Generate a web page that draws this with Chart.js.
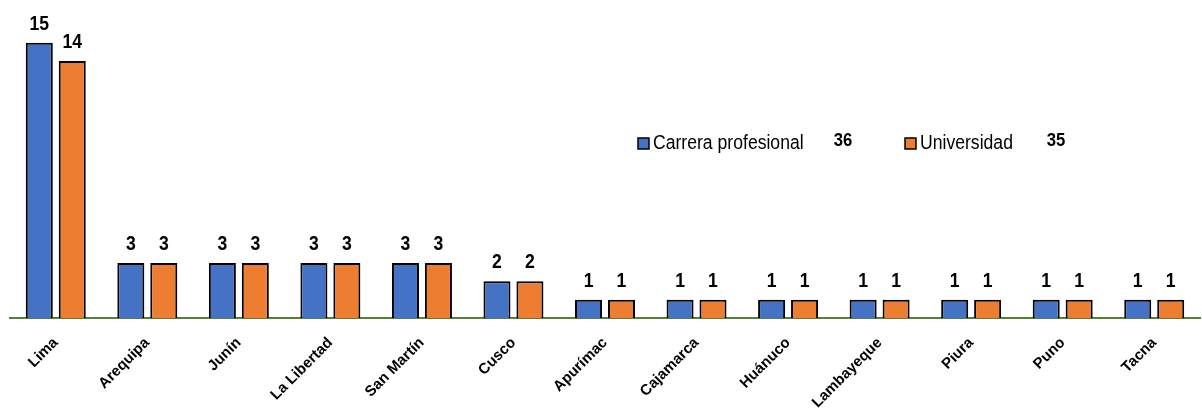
<!DOCTYPE html>
<html>
<head>
<meta charset="utf-8">
<script src="https://cdn.jsdelivr.net/npm/chart.js@4"></script>
<style>
  body { margin: 0; background: #fff; }
  #wrap { width: 1202px; height: 414px; position: relative; }
</style>
</head>
<body>
<div id="wrap"><canvas id="regionesChart"></canvas></div>
<script>
const regiones = ['Lima', 'Arequipa', 'Junín', 'La Libertad', 'San Martín', 'Cusco', 'Apurímac',
    'Cajamarca', 'Huánuco', 'Lambayeque', 'Piura', 'Puno', 'Tacna'];
const carrera = [15, 3, 3, 3, 3, 2, 1, 1, 1, 1, 1, 1, 1];
const universidad = [14, 3, 3, 3, 3, 2, 1, 1, 1, 1, 1, 1, 1];

const FONT = '"Liberation Sans", Arial, sans-serif';
const sum = arr => arr.reduce((a, b) => a + b, 0);

// text a bit narrower, like the original picture
function narrowText(ctx, text, x, y, font, align) {
    ctx.save();
    ctx.font = font;
    ctx.textAlign = align;
    ctx.translate(x, y);
    ctx.scale(0.88, 1);
    ctx.fillText(text, 0, 0);
    ctx.restore();
}

// value labels above bars
const valueLabels = {
    id: 'valueLabels',
    afterDatasetsDraw(chart) {
        const ctx = chart.ctx;
        ctx.save();
        ctx.fillStyle = '#000';
        ctx.textBaseline = 'alphabetic';
        chart.data.datasets.forEach((ds, i) => {
            chart.getDatasetMeta(i).data.forEach((bar, j) => {
                narrowText(ctx, ds.data[j], bar.x, bar.y - 13, 'bold 20px ' + FONT, 'center');
            });
        });
        ctx.restore();
    }
};

// legend with totals, drawn inside the plot
const totalsLegend = {
    id: 'totalsLegend',
    afterDraw(chart) {
        const ctx = chart.ctx;
        const items = [
            { x: 638, numX: 843, ds: chart.data.datasets[0] },
            { x: 905, numX: 1056, ds: chart.data.datasets[1] },
        ];
        ctx.save();
        ctx.textBaseline = 'alphabetic';
        items.forEach(it => {
            ctx.fillStyle = it.ds.backgroundColor;
            ctx.strokeStyle = '#000';
            ctx.lineWidth = 1.5;
            ctx.fillRect(it.x, 138, 11, 11);
            ctx.strokeRect(it.x, 138, 11, 11);
            ctx.fillStyle = '#000';
            narrowText(ctx, it.ds.label, it.x + 15, 149, '20px ' + FONT, 'left');
            narrowText(ctx, sum(it.ds.data), it.numX, 146, 'bold 19px ' + FONT, 'center');
        });
        ctx.restore();
    }
};

new Chart(document.getElementById('regionesChart'), {
    type: 'bar',
    data: {
        labels: regiones,
        datasets: [{
                label: 'Carrera profesional',
                data: carrera,
                backgroundColor: '#4472c4',
                borderColor: '#000',
                borderWidth: 2,
                borderSkipped: 'bottom',
            },
            {
                label: 'Universidad',
                data: universidad,
                backgroundColor: '#ed7d31',
                borderColor: '#000',
                borderWidth: 2,
                borderSkipped: 'bottom',
            },
        ],
    },
    options: {
        responsive: true,
        maintainAspectRatio: false,
        animation: false,
        categoryPercentage: 0.72,
        barPercentage: 0.82,
        layout: {
            padding: { top: 6, left: 10, right: 2, bottom: 0 }
        },
        plugins: {
            legend: { display: false },
            tooltip: { enabled: false },
        },
        scales: {
            x: {
                grid: { display: false },
                border: { color: '#548235', width: 2 },
                ticks: {
                    color: '#000',
                    maxRotation: 45,
                    minRotation: 45,
                    padding: 8,
                    font: { family: FONT, size: 15, weight: 'bold' }
                },
                afterFit(scale) { scale.height = 96; }
            },
            y: {
                display: false,
                min: 0,
                max: 17,
            },
        },
    },
    plugins: [valueLabels, totalsLegend],
});
</script>
</body>
</html>
